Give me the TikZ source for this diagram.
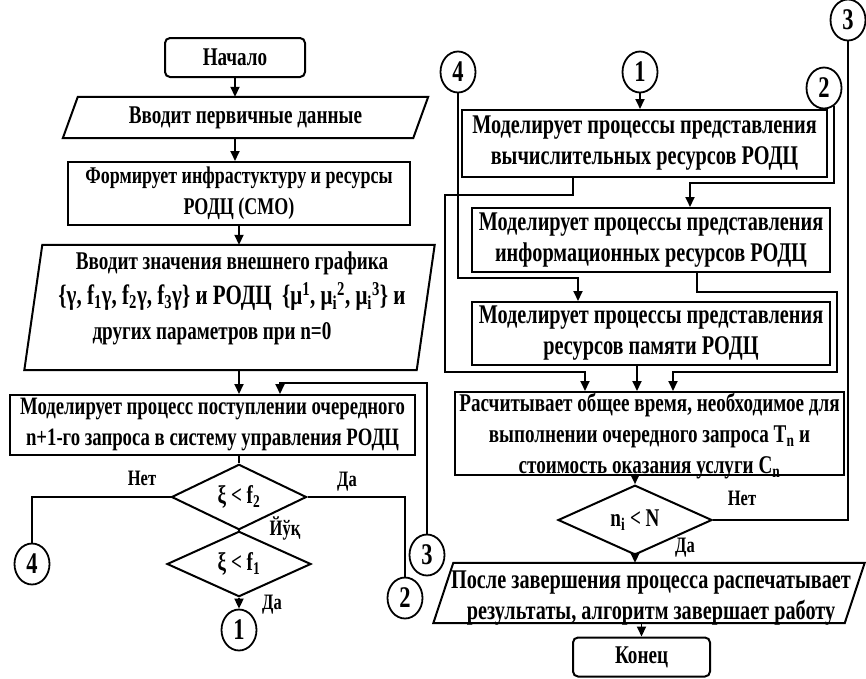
\documentclass[tikz,border=0pt]{standalone}
\usepackage{fontspec}
\setmainfont{Liberation Serif}[FakeStretch=0.75]
\usetikzlibrary{arrows.meta,shapes.geometric}
\newcommand\tsz{\fontsize{25.5}{31}\selectfont\bfseries}
\newcommand\fsz{\fontsize{24}{31}\selectfont\bfseries}
\newcommand\rsz{\fontsize{27}{31}\selectfont\bfseries}
\newcommand\lsz{\fontsize{22}{24}\selectfont\bfseries}
\newcommand\csz{\fontsize{30}{30}\selectfont\bfseries}
\newcommand\subsup[2]{\textsubscript{#1}\textsuperscript{#2}}
\begin{document}
\begin{tikzpicture}[x=1pt,y=-1pt,
  ln/.style={line width=1.8pt},
  arr/.style={line width=1.8pt,-{Triangle[length=10pt,width=9pt]}},
  box/.style={draw,line width=2pt,inner sep=0pt,align=center,font=\tsz},
  term/.style={box,rounded corners=5pt},
  shp/.style={inner sep=0pt},
  txt/.style={inner sep=0pt,align=center,font=\tsz},
  dec/.style={draw,diamond,line width=2pt,inner sep=0pt,font=\tsz},
  con/.style={draw,ellipse,line width=1.8pt,inner sep=0pt,minimum width=35pt,minimum height=41pt,font=\csz},
  lbl/.style={inner sep=0pt,font=\lsz},
  io/.style={line width=2pt}]
\useasboundingbox (0,0) rectangle (866,678);
% ---------- left column ----------
\node[term,minimum width=140pt,minimum height=39pt] (start) at (235,57.5) {Начало};
\node[txt,minimum width=350pt,minimum height=41pt] (in1) at (245.5,117.5) {Вводит первичные данные};
\draw[io] ([xshift=7.5pt]in1.north west) -- ([xshift=7.5pt]in1.north east) -- ([xshift=-7.5pt]in1.south east) -- ([xshift=-7.5pt]in1.south west) -- cycle;
\node[box,font=\fsz,minimum width=342pt,minimum height=63pt] (form) at (239,193.5) {Формирует инфрастуктуру и ресурсы\\РОДЦ (СМО)};
\node[shp,minimum width=392pt,minimum height=125pt] (in2) at (229.5,307.5) {};
\draw[io] ([xshift=9pt]in2.north west) -- ([xshift=9pt]in2.north east) -- ([xshift=-9pt]in2.south east) -- ([xshift=-9pt]in2.south west) -- cycle;
\node[txt,font=\fontsize{25.5}{35}\selectfont\bfseries] (in2t) at (232,298) {Вводит значения внешнего графика\\ {\fontsize{28}{35}\selectfont\{γ, f\textsubscript{1}γ, f\textsubscript{2}γ, f\textsubscript{3}γ\} и РОДЦ \ \{μ\textsuperscript{1}, μ\subsup{i}{2}, μ\subsup{i}{3}\} и}\\ других параметров при n=0\hspace*{40pt}};
\node[box,font=\fontsize{25}{31}\selectfont\bfseries,minimum width=405pt,minimum height=60pt] (model) at (212.5,425) {Моделирует процесс поступлении очередного\\n+1-го запроса в систему управления РОДЦ};
\node[dec,minimum width=135pt,minimum height=45pt] (d1) at (239,497) {ξ < f\textsubscript{2}};
\node[dec,minimum width=144pt,minimum height=52pt] (d2) at (239,564) {ξ < f\textsubscript{1}};
\node[con] (c4L) at (32,564) {4};
\node[con] (c2L) at (405,598) {2};
\node[con] (c3L) at (427,555) {3};
\node[con] (c1L) at (239,630) {1};
\node[lbl] (lno1) at (142,478) {Нет};
\node[lbl] (lyes1) at (347,482) {Да};
\node[lbl] (lno2) at (285,528) {Йўқ};
\node[lbl] (lyes2) at (272,605) {Да};
% ---------- right column ----------
\node[con] (c4R) at (458,72) {4};
\node[con] (c1R) at (640,72) {1};
\node[con] (c2R) at (824,88) {2};
\node[con] (c3R) at (848,20) {3};
\node[box,font=\rsz,minimum width=365pt,minimum height=67pt] (b1) at (644.5,143.5) {Моделирует процессы представления\\вычислительных ресурсов РОДЦ};
\node[box,font=\rsz,minimum width=358pt,minimum height=64pt] (b2) at (651,240) {Моделирует процессы представления\\информационных ресурсов РОДЦ};
\node[box,font=\rsz,minimum width=358pt,minimum height=63pt] (b3) at (651,333.5) {Моделирует процессы представления\\ресурсов памяти РОДЦ};
\node[box,minimum width=389pt,minimum height=83pt] (b4) at (649.5,433.5) {};
\node[txt] (b4t) at (649.5,436) {Расчитывает общее время, необходимое для\\выполнении очередного запроса T\textsubscript{n} и\\стоимость оказания услуги C\textsubscript{n}};
\node[dec,minimum width=154pt,minimum height=50pt] (d3) at (635,520) {n\textsubscript{i} < N};
\node[shp,minimum width=411pt,minimum height=60pt] (out) at (649,593) {};
\draw[io] ([xshift=10pt]out.north west) -- ([xshift=10pt]out.north east) -- ([xshift=-10pt]out.south east) -- ([xshift=-10pt]out.south west) -- cycle;
\node[txt,font=\rsz] (outt) at (651,598) {После завершения процесса распечатывает\\результаты, алгоритм завершает работу};
\node[term,minimum width=137pt,minimum height=39pt] (end) at (641.5,657) {Конец};
\node[lbl] (lno3) at (742,498) {Нет};
\node[lbl] (lyes3) at (685,548) {Да};
% ---------- coordinates ----------
\coordinate (j3) at (280,383);
\coordinate (k2) at (690,183);
\coordinate (k1a) at (445,195);
\coordinate (k1b) at (585,372);
\coordinate (k4) at (578,278);
\coordinate (k2a) at (837,292);
\coordinate (k2b) at (673,372);
% ---------- left connectors ----------
\draw[arr] (start.south) -- (start.south |- in1.north);
\draw[arr] (start.south |- in1.south) -- (start.south |- form.north);
\draw[arr] (form.south) -- (form.south |- in2.north);
\draw[arr] (form.south |- in2.south) -- (form.south |- model.north);
\draw[arr] (c3L.north) |- (j3) -- (j3 |- model.north);
\draw[ln] (d1.north |- model.south) -- (d1.north);
\draw[ln] (d1.west) -| (c4L.north);
\draw[ln] (d1.east) -| (c2L.north);
\draw[ln] (d1.south) -- (d2.north);
\draw[arr] (d2.south) -- (c1L.north);
% ---------- right connectors ----------
\draw[arr] (c1R.south) -- (c1R.south |- b1.north);
\draw[arr] (c2R.-60) |- (k2) -- (k2 |- b2.north);
\draw[arr] ([xshift=-71.5pt]b1.south) |- (k1a) |- (k1b) -- (k1b |- b4.north);
\draw[arr] (c4R.south) |- (k4) -- (k4 |- b3.north);
\draw[arr] ([xshift=46pt]b2.south) |- (k2a) |- (k2b) -- (k2b |- b4.north);
\draw[arr] ([xshift=-14pt]b3.south) -- ([xshift=-14pt]b3.south |- b4.north);
\draw[arr] (d3.north |- b4.south) -- (d3.north);
\draw[ln] (d3.east) -| (c3R.south);
\draw[arr] (d3.south) -- (d3.south |- out.north);
\draw[arr] (end.north |- out.south) -- (end.north);
\end{tikzpicture}
\end{document}
